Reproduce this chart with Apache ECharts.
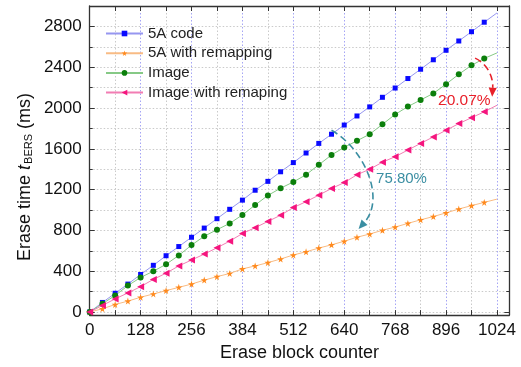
<!DOCTYPE html>
<html><head><meta charset="utf-8">
<script src="https://cdn.jsdelivr.net/npm/echarts@6/dist/echarts.min.js"></script>
<style>html,body{margin:0;padding:0;background:#fff}#c{width:521px;height:367px}</style>
</head><body><div id="c"></div>
<script>
// ---- data ----
const blockCounter = [0,32,64,96,128,160,192,224,256,288,320,352,384,416,448,480,512,544,576,608,640,672,704,736,768,800,832,864,896,928,960,992,1024];
const code5A      = [0,94,184,274,368,458,552,642,733,823,915,1007,1097,1194,1281,1375,1465,1559,1653,1743,1833,1922,2011,2105,2196,2289,2380,2473,2566,2657,2748,2841,2932];
const code5ARemap = [0,32,74,107,145,177,210,242,274,313,347,378,423,452,484,520,559,591,627,659,694,733,765,801,833,869,904,936,972,1010,1043,1075,1107];
const image       = [0,82,162,259,339,400,468,555,656,743,807,869,952,1049,1143,1214,1275,1346,1443,1540,1614,1679,1743,1840,1937,2014,2079,2143,2234,2331,2418,2486,2540];
const imageRemap  = [0,65,129,187,249,320,381,452,510,568,630,695,770,827,888,949,1024,1082,1146,1211,1269,1346,1400,1469,1523,1588,1653,1717,1782,1847,1905,1963,2027];
const seriesNames = ['5A code','5A with remapping','Image','Image with remaping'];
const xMajorTicks = [0,128,256,384,512,640,768,896,1024];
const xMinorTicks = [64,192,320,448,576,704,832,960];
const yMajorTicks = [0,400,800,1200,1600,2000,2400,2800];
const yMinorTicks = [200,600,1000,1400,1800,2200,2600];
const xTitle = 'Erase block counter';
const pctImage = '20.07%';
const pct5A = '75.80%';

// ---- chart ----
const FONT = 'Liberation Sans, Arial, sans-serif';
const X_MIN = 0, X_MAX = 1055, Y_MIN = -30, Y_MAX = 3000;
const AX = '#333';
const chart = echarts.init(document.getElementById('c'), null, {renderer:'canvas'});

function pairs(vals){
  return blockCounter.map((x,i)=> i === blockCounter.length-1 ? {value:[x, vals[i]], symbol:'none'} : [x, vals[i]]);
}
const plain = v => String(v);
function xAx(pos, ticks, major){
  return {
    type:'value', position:pos, min:X_MIN, max:X_MAX,
    axisLine:{show: major, onZero:false, lineStyle:{color:AX, width:1.3}},
    axisTick:{show:true, inside:true, length: 5, customValues: ticks, lineStyle:{color:AX, width:1}},
    axisLabel:{show: major && pos==='bottom', customValues: ticks, formatter: plain, margin:7, fontSize:17, color:'#111', fontFamily:FONT},
    splitLine:{show: pos==='bottom', lineStyle:{color: major ? '#a5a5f5' : '#cacaca', type:[1.5,2], width:1}},
    name: (major && pos==='bottom') ? xTitle : '', nameLocation:'middle', nameGap:27,
    nameTextStyle:{fontSize:18, color:'#111', fontFamily:FONT}
  };
}
function yAx(pos, ticks, major){
  return {
    type:'value', position:pos, min:Y_MIN, max:Y_MAX,
    axisLine:{show: major, onZero:false, lineStyle:{color:AX, width:1.3}},
    axisTick:{show:true, inside:true, length: major ? 5 : 3, customValues: ticks, lineStyle:{color:AX, width:1}},
    axisLabel:{show: major && pos==='left', customValues: ticks, formatter: plain, margin:8, fontSize:17, color:'#111', fontFamily:FONT},
    splitLine:{show: pos==='left', lineStyle:{color:'#cacaca', type:[1.5,2], width:1}}
  };
}
const star = 'path://M50,0 L61,35 L98,35 L68,57 L79,91 L50,70 L21,91 L32,57 L2,35 L39,35 Z';
const styles = [
  {line:'#9696f0', mark:'#0a0aff', symbol:'rect', size:5, rot:0},
  {line:'#f8bb84', mark:'#ff8a1e', symbol:star, size:7, rot:0},
  {line:'#86c986', mark:'#0b7f0b', symbol:'circle', size:6, rot:0},
  {line:'#f27db3', mark:'#f5157e', symbol:'triangle', size:7, rot:90}
];
const values = [code5A, code5ARemap, image, imageRemap];

chart.setOption({
  animation:false,
  backgroundColor:'#fff',
  grid:{left:89.7, right:11.7, top:6, bottom:48.7, show:false},
  xAxis:[xAx('bottom', xMajorTicks, true), xAx('bottom', xMinorTicks, false), xAx('top', xMajorTicks, true), xAx('top', xMinorTicks, false)],
  yAxis:[yAx('left', yMajorTicks, true), yAx('left', yMinorTicks, false), yAx('right', yMajorTicks, true), yAx('right', yMinorTicks, false)],
  legend:{
    orient:'vertical', left:100, top:21, itemWidth:37, itemHeight:7, itemGap:4.7,
    textStyle:{fontSize:15, color:'#222', fontFamily:FONT},
    data: seriesNames
  },
  series: seriesNames.map((n,i)=>({
    name:n, type:'line', xAxisIndex:0, yAxisIndex:0,
    data: pairs(values[i]),
    symbol: styles[i].symbol, symbolSize: styles[i].size, symbolRotate: styles[i].rot,
    showSymbol:true, showAllSymbol:true,
    lineStyle:{color:styles[i].line, width:1},
    itemStyle:{color:styles[i].mark},
    emphasis:{disabled:true}
  }))
});

// ---- annotations (anchored in data coordinates) ----
function P(x,y){ return chart.convertToPixel({xAxisIndex:0, yAxisIndex:0}, [x,y]); }
function curveArrow(p0,c1,c2,p3,color){
  const dx = p3[0]-c2[0], dy = p3[1]-c2[1], L = Math.hypot(dx,dy);
  const ux = dx/L, uy = dy/L, px = -uy, py = ux;
  const b = [p3[0]-ux*9, p3[1]-uy*9];
  return [
    {type:'bezierCurve', z:100, shape:{x1:p0[0],y1:p0[1],cpx1:c1[0],cpy1:c1[1],cpx2:c2[0],cpy2:c2[1],x2:b[0],y2:b[1]},
     style:{stroke:color, lineWidth:1.6, lineDash:[7,4], fill:null}},
    {type:'polygon', z:101, shape:{points:[p3,[b[0]+px*4,b[1]+py*4],[b[0]-px*4,b[1]-py*4]]}, style:{fill:color}}
  ];
}
const teal = '#3a8ea2', red = '#e8202a';
const tc = P(784,1307), rc = P(942,2073);
chart.setOption({graphic:[
  ...curveArrow(P(608,1782), P(691,1598), P(744,1114), P(676,814), teal),
  ...curveArrow(P(969,2489), P(997,2441), P(1015,2315), P(1012,2111), red),
  {type:'text', z:102, x:tc[0], y:tc[1], style:{text:pct5A, fill:teal, font:'15px '+FONT, align:'center', verticalAlign:'middle'}},
  {type:'text', z:102, x:rc[0], y:rc[1], style:{text:pctImage, fill:red, font:'15.5px '+FONT, align:'center', verticalAlign:'middle'}},
  {type:'text', z:102, x:25, y:177, rotation:Math.PI/2,
   style:{text:'{a|Erase time }{i|t}{s|BERS}{a| (ms)}', align:'center', verticalAlign:'middle',
     rich:{a:{fontSize:18, fontFamily:FONT, fill:'#111'}, i:{fontSize:18, fontStyle:'italic', fontFamily:FONT, fill:'#111'},
           s:{fontSize:11, fontFamily:FONT, fill:'#111', padding:[7,0,0,1]}}}}
]});
</script></body></html>
